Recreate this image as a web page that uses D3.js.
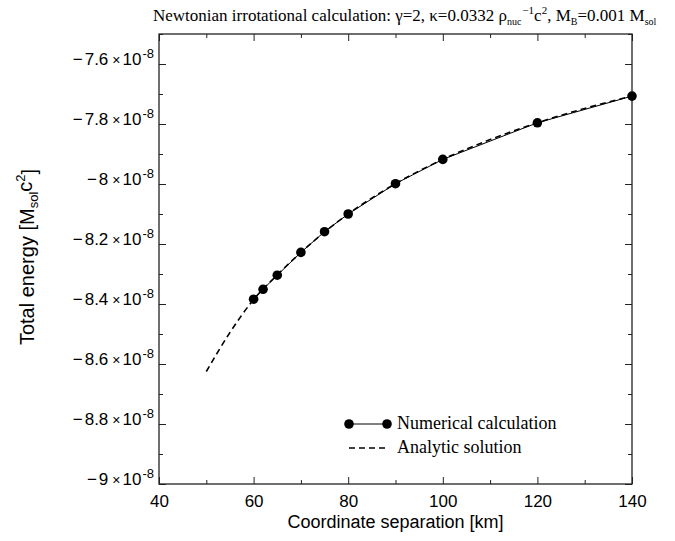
<!DOCTYPE html>
<html>
<head>
<meta charset="utf-8">
<script src="https://cdn.jsdelivr.net/npm/d3@7"></script>
<style>
  body { margin: 0; background: #fff; }
  .tick-label { font-family: "Liberation Sans", Arial, sans-serif; }
  .serif { font-family: "Liberation Serif", "Times New Roman", serif; }
</style>
</head>
<body>
<div id="chart"></div>
<script>
// numerical calculation (separation km, total energy in Msol c^2)
const numSeparation = [60, 62, 65, 70, 75, 80, 90, 100, 120, 140];
const numEnergy = [-8.384e-8, -8.351e-8, -8.304e-8, -8.228e-8, -8.159e-8, -8.100e-8, -7.999e-8, -7.918e-8, -7.796e-8, -7.707e-8];

// analytic solution
const anaSeparation = [50, 55, 60, 65, 70, 75, 80, 90, 100, 110, 120, 130, 140];
const anaEnergy = [-8.625e-8, -8.495e-8, -8.385e-8, -8.303e-8, -8.228e-8, -8.160e-8, -8.100e-8, -7.999e-8, -7.918e-8, -7.852e-8, -7.796e-8, -7.748e-8, -7.707e-8];

const xTicks = [40, 60, 80, 100, 120, 140];
const xMinor = [50, 70, 90, 110, 130];
const yTicks = [-9e-8, -8.8e-8, -8.6e-8, -8.4e-8, -8.2e-8, -8e-8, -7.8e-8, -7.6e-8];
const yMinor = [-8.9e-8, -8.7e-8, -8.5e-8, -8.3e-8, -8.1e-8, -7.9e-8, -7.7e-8, -7.5e-8];

const legendLabels = ["Numerical calculation", "Analytic solution"];

const config = {
  width: 675,
  height: 541,
  margin: { top: 34, right: 43, bottom: 57, left: 159 },
};

const svg = d3.select("#chart")
  .append("svg")
  .attr("width", config.width)
  .attr("height", config.height);

const w = config.width - config.margin.left - config.margin.right;
const h = config.height - config.margin.top - config.margin.bottom;

const chart = svg.append("g")
  .attr("transform", `translate(${config.margin.left},${config.margin.top})`);

const x = d3.scaleLinear().domain([40, 140]).range([0, w]);
const y = d3.scaleLinear().domain([-9e-8, -7.5e-8]).range([h, 0]);

const frameColor = "#222";

// axes with inward ticks, mirrored on top/right
function styleAxis(g) {
  g.select(".domain").remove();
  g.selectAll(".tick line").attr("stroke", frameColor).attr("stroke-width", 1);
}

chart.append("g").attr("transform", `translate(0,${h})`)
  .call(d3.axisBottom(x).tickValues(xTicks).tickSize(-7).tickPadding(11).tickFormat(d3.format("d")))
  .call(styleAxis)
  .call(g => g.selectAll("text")
    .attr("class", "tick-label")
    .attr("font-size", 17)
    .attr("fill", "#000"));

chart.append("g").attr("transform", `translate(0,${h})`)
  .call(d3.axisBottom(x).tickValues(xMinor).tickSize(-4).tickFormat(""))
  .call(styleAxis);
chart.append("g")
  .call(d3.axisTop(x).tickValues(xTicks).tickSize(-7).tickFormat(""))
  .call(styleAxis);
chart.append("g")
  .call(d3.axisTop(x).tickValues(xMinor).tickSize(-4).tickFormat(""))
  .call(styleAxis);

const yAxis = chart.append("g")
  .call(d3.axisLeft(y).tickValues(yTicks).tickSize(-7).tickFormat(""))
  .call(styleAxis);

yAxis.selectAll(".tick").append("text")
  .attr("class", "tick-label")
  .attr("x", -5)
  .attr("dy", "0.05em")
  .attr("text-anchor", "end")
  .attr("fill", "#000")
  .attr("font-size", 17)
  .each(function (d) {
    const t = d3.select(this);
    const m = Math.round(d / 1e-8 * 10) / 10;
    t.append("tspan").text("\u2212");
    t.append("tspan").attr("dx", 2).text(String(Math.abs(m)));
    t.append("tspan").attr("font-size", 14).attr("dx", 4).text("\u00d7");
    t.append("tspan").attr("dx", 2).text("10");
    t.append("tspan").attr("font-size", 13).attr("dy", "-0.6em").attr("dx", 1).text("-8");
  });

chart.append("g")
  .call(d3.axisLeft(y).tickValues(yMinor).tickSize(-4).tickFormat(""))
  .call(styleAxis);
chart.append("g").attr("transform", `translate(${w},0)`)
  .call(d3.axisRight(y).tickValues(yTicks).tickSize(-7).tickFormat(""))
  .call(styleAxis);
chart.append("g").attr("transform", `translate(${w},0)`)
  .call(d3.axisRight(y).tickValues(yMinor).tickSize(-4).tickFormat(""))
  .call(styleAxis);

// frame
chart.append("rect")
  .attr("width", w)
  .attr("height", h)
  .attr("fill", "none")
  .attr("stroke", frameColor)
  .attr("stroke-width", 1.3);

// lines
const numData = numSeparation.map((d, i) => ({ x: d, y: numEnergy[i] }));
const anaData = anaSeparation.map((d, i) => ({ x: d, y: anaEnergy[i] }));

const line = d3.line().x(d => x(d.x)).y(d => y(d.y));

chart.append("path")
  .datum(numData)
  .attr("d", line)
  .attr("fill", "none")
  .attr("stroke", "#000")
  .attr("stroke-width", 1);

chart.append("path")
  .datum(anaData)
  .attr("d", line.curve(d3.curveMonotoneX))
  .attr("fill", "none")
  .attr("stroke", "#000")
  .attr("stroke-width", 1.6)
  .attr("stroke-dasharray", "6,4");

chart.selectAll("circle.num")
  .data(numData)
  .join("circle")
  .attr("class", "num")
  .attr("cx", d => x(d.x))
  .attr("cy", d => y(d.y))
  .attr("r", 4.8)
  .attr("fill", "#000");

// axis titles
svg.append("text")
  .attr("class", "tick-label")
  .attr("x", config.margin.left + w / 2)
  .attr("y", 528)
  .attr("text-anchor", "middle")
  .attr("font-size", 18)
  .text("Coordinate separation [km]");

const yTitle = svg.append("text")
  .attr("class", "tick-label")
  .attr("transform", "translate(34,257) rotate(-90)")
  .attr("text-anchor", "middle")
  .attr("font-size", 20);
yTitle.append("tspan").text("Total energy [M");
yTitle.append("tspan").attr("font-size", 13).attr("dy", "0.3em").text("sol");
yTitle.append("tspan").attr("dy", "-0.3em").text("c");
yTitle.append("tspan").attr("font-size", 13).attr("dy", "-0.55em").text("2");
yTitle.append("tspan").attr("dy", "0.55em").text("]");

// title
const title = svg.append("text")
  .attr("class", "serif")
  .attr("x", 153)
  .attr("y", 21)
  .attr("font-size", 17);
title.append("tspan").text("Newtonian irrotational calculation: \u03b3=2, \u03ba=0.0332 \u03c1");
title.append("tspan").attr("font-size", 10).attr("dy", 4).text("nuc");
title.append("tspan").attr("font-size", 11).attr("dy", -11).attr("dx", 1).text("\u22121");
title.append("tspan").attr("dy", 7).text("c");
title.append("tspan").attr("font-size", 11).attr("dy", -7).text("2");
title.append("tspan").attr("dy", 7).text(", M");
title.append("tspan").attr("font-size", 10).attr("dy", 4).text("B");
title.append("tspan").attr("dy", -4).text("=0.001 M");
title.append("tspan").attr("font-size", 10).attr("dy", 4).text("sol");

// legend
const legend = svg.append("g").attr("transform", "translate(349,424)");
const lx0 = 0, lx1 = 38, rowH = 24;

legend.append("line")
  .attr("x1", lx0).attr("x2", lx1)
  .attr("stroke", "#000").attr("stroke-width", 1);
legend.selectAll("circle")
  .data([lx0, lx1])
  .join("circle")
  .attr("cx", d => d)
  .attr("r", 4.8)
  .attr("fill", "#000");
legend.append("line")
  .attr("x1", lx0).attr("x2", lx1)
  .attr("y1", rowH).attr("y2", rowH)
  .attr("stroke", "#000").attr("stroke-width", 1.6)
  .attr("stroke-dasharray", "6,4");

legend.selectAll("text")
  .data(legendLabels)
  .join("text")
  .attr("class", "serif")
  .attr("x", 48)
  .attr("y", (d, i) => i * rowH + 5)
  .attr("font-size", 18)
  .text(d => d);
</script>
</body>
</html>
